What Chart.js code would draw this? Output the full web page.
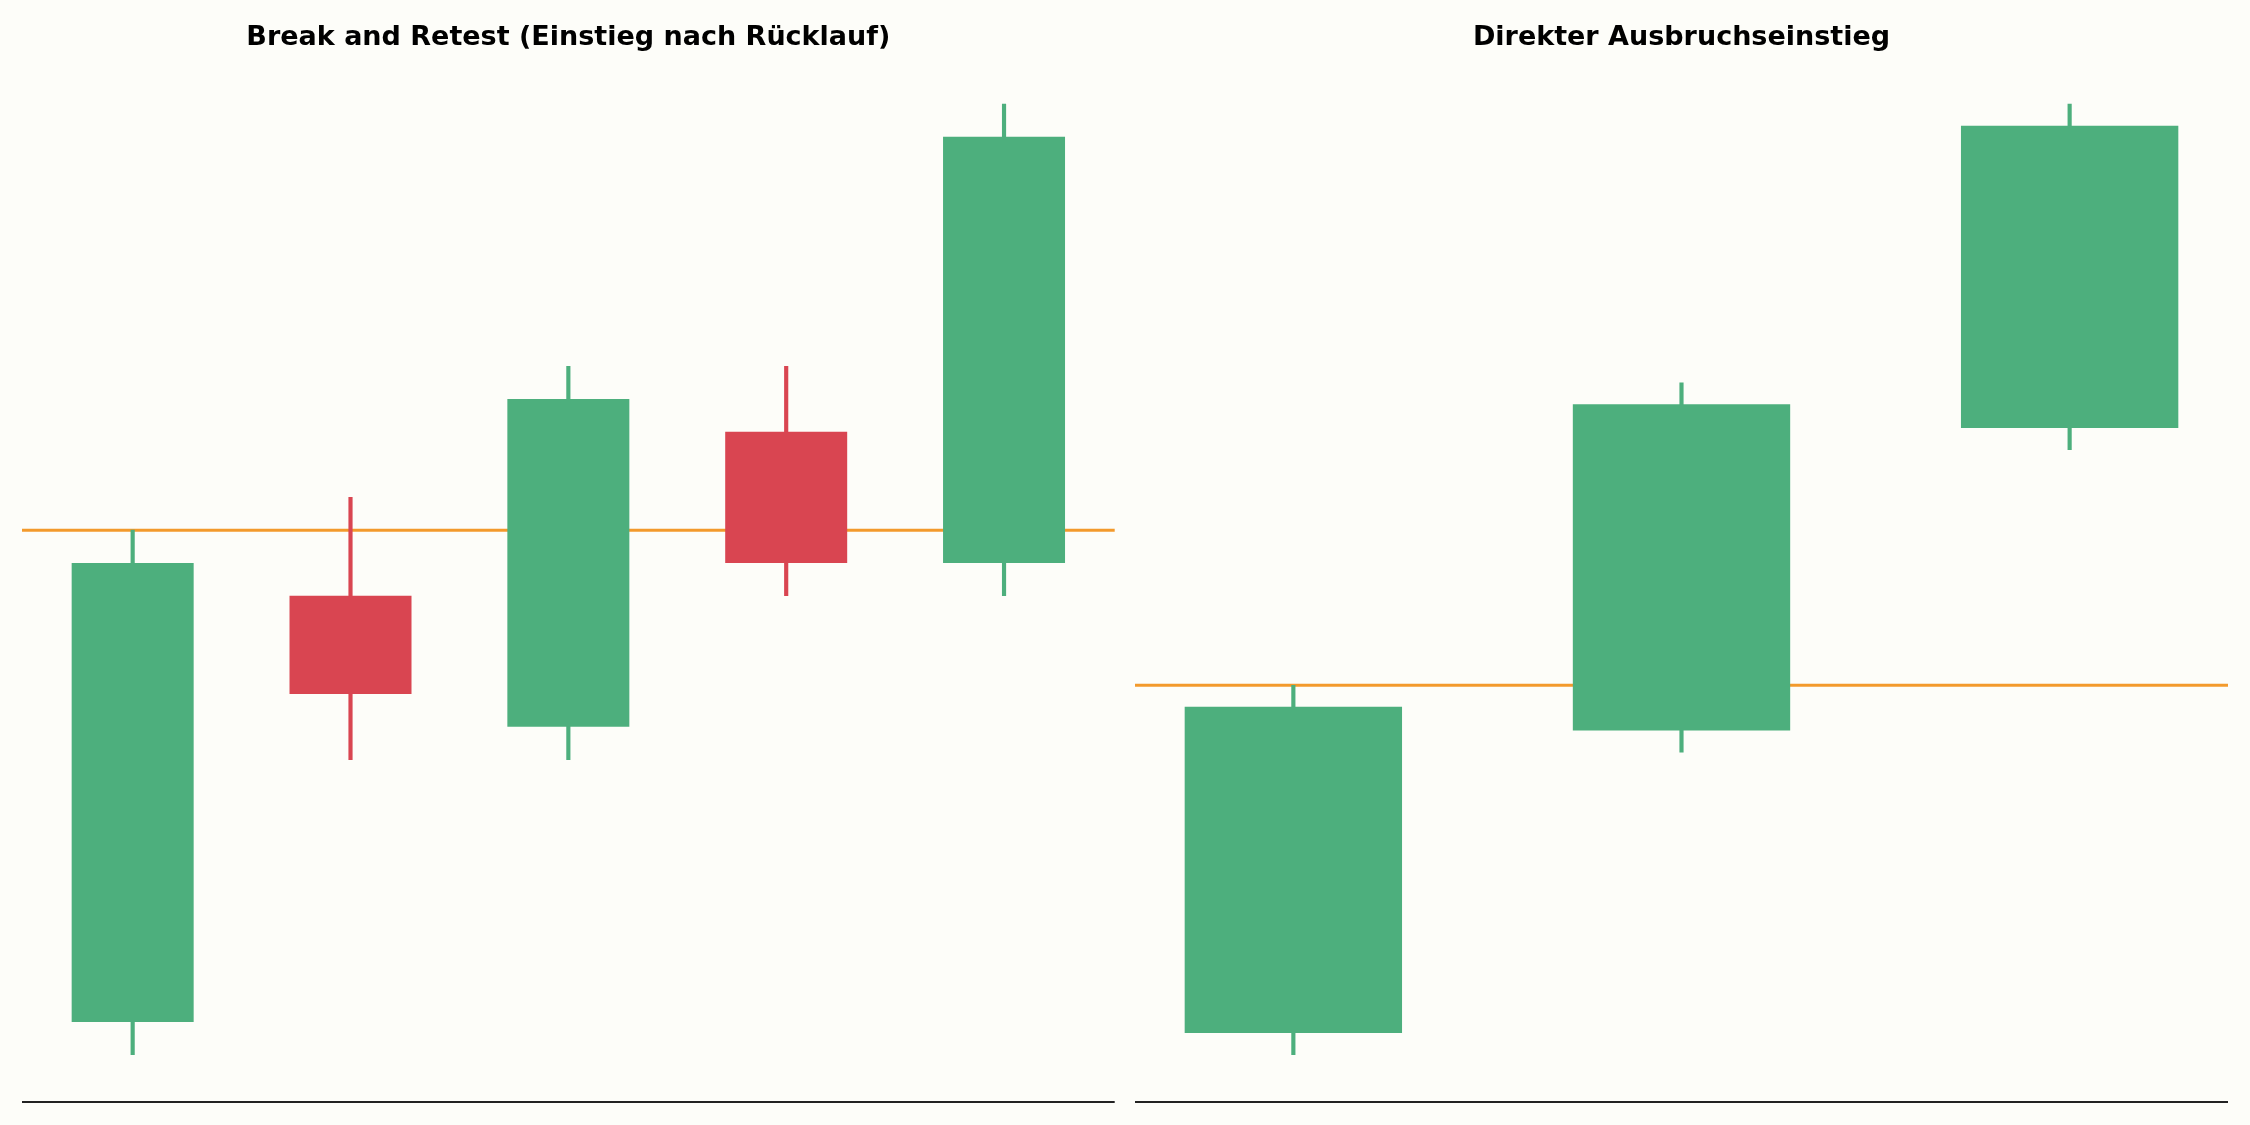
<!DOCTYPE html>
<html>
<head>
<meta charset="utf-8">
<script src="https://cdn.jsdelivr.net/npm/chart.js@4.4.1/dist/chart.umd.min.js"></script>
<style>
  html, body { margin: 0; padding: 0; background: #FDFDF9; }
  #wrap { position: relative; width: 2250px; height: 1125px; background: #FDFDF9; }
  .panel { position: absolute; top: 0; width: 1125px; height: 1125px; }
</style>
</head>
<body>
<div id="wrap">
  <div class="panel" style="left:0"><canvas id="c1" width="1125" height="1125"></canvas></div>
  <div class="panel" style="left:1125px"><canvas id="c2" width="1125" height="1125"></canvas></div>
</div>
<script>
// ---- Data ----
const leftTitle = "Break and Retest (Einstieg nach Rücklauf)";
const leftOpen  = [101, 114, 110, 119, 115];
const leftHigh  = [116, 117, 121, 121, 129];
const leftLow   = [100, 109, 109, 114, 114];
const leftClose = [115, 111, 120, 115, 128];
const leftLevel = 116;

const rightTitle = "Direkter Ausbruchseinstieg";
const rightOpen  = [100.5, 107.5, 114.5];
const rightHigh  = [108.55, 115.55, 122];
const rightLow   = [100, 107, 114];
const rightClose = [108.05, 115.05, 121.5];
const rightLevel = 108.55;

// ---- Styles ----
const GREEN = '#4DAF7D';
const RED = '#D94551';
const ORANGE = '#F39A2C';
const SPINE = '#222222';
const BODY_W = 0.56;

function makeChart(canvasId, title, open, high, low, close, level, padL, padR) {
  const n = open.length;
  const colors = open.map((o, i) => close[i] >= o ? GREEN : RED);
  const lo = Math.min(...low), hi = Math.max(...high);
  const ym = (hi - lo) * 0.05;
  const xm = (n - 1 + BODY_W) * 0.05;

  const levelPlugin = {
    id: 'levels',
    beforeDatasetsDraw(chart) {
      const {ctx, chartArea, scales} = chart;
      const y = scales.y.getPixelForValue(level);
      ctx.save();
      ctx.strokeStyle = ORANGE;
      ctx.lineWidth = 3;
      ctx.beginPath();
      ctx.moveTo(chartArea.left, y);
      ctx.lineTo(chartArea.right, y);
      ctx.stroke();
      ctx.restore();
    },
    afterDatasetsDraw(chart) {
      const {ctx, chartArea} = chart;
      ctx.save();
      ctx.strokeStyle = SPINE;
      ctx.lineWidth = 2;
      ctx.beginPath();
      ctx.moveTo(chartArea.left, Math.round(chartArea.bottom));
      ctx.lineTo(chartArea.right, Math.round(chartArea.bottom));
      ctx.stroke();
      ctx.restore();
    }
  };

  return new Chart(document.getElementById(canvasId), {
    type: 'bar',
    data: {
      datasets: [
        {
          label: 'body',
          data: open.map((o, i) => ({x: i, y: [o, close[i]]})),
          backgroundColor: colors,
          borderWidth: 0,
          grouped: false,
          barPercentage: BODY_W,
          categoryPercentage: 1.0
        },
        {
          label: 'wick',
          data: low.map((l, i) => ({x: i, y: [l, high[i]]})),
          backgroundColor: colors,
          borderWidth: 0,
          grouped: false,
          barThickness: 3.5
        }
      ]
    },
    options: {
      responsive: false,
      devicePixelRatio: 1,
      animation: false,
      layout: { padding: { left: padL, right: padR, top: 0, bottom: 22.8 } },
      plugins: {
        legend: { display: false },
        tooltip: { enabled: false },
        title: {
          display: true,
          text: title,
          color: '#000000',
          font: { family: 'DejaVu Sans', size: 27, weight: 'bold', lineHeight: 1.2 },
          padding: { top: 22, bottom: 2.1 }
        }
      },
      scales: {
        x: {
          type: 'linear', display: false, offset: false,
          min: -BODY_W / 2 - xm, max: n - 1 + BODY_W / 2 + xm,
          afterBuildTicks: (scale) => { scale.ticks = open.map((_, i) => ({value: i})); }
        },
        y: { type: 'linear', display: false, min: lo - ym, max: hi + ym }
      }
    },
    plugins: [levelPlugin]
  });
}

makeChart('c1', leftTitle, leftOpen, leftHigh, leftLow, leftClose, leftLevel, 22, 10.3);
makeChart('c2', rightTitle, rightOpen, rightHigh, rightLow, rightClose, rightLevel, 10, 22);
</script>
</body>
</html>
